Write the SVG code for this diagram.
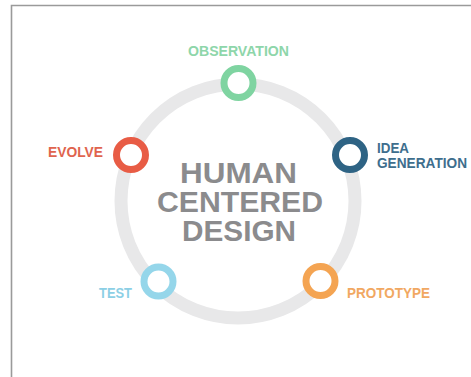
<svg xmlns="http://www.w3.org/2000/svg" width="471" height="377" viewBox="0 0 471 377">
  <style>
    .lbl { font-family: "Liberation Sans", Arial, sans-serif; font-weight: bold; font-size: 14px; }
    .title { font-family: "Liberation Sans", Arial, sans-serif; font-weight: bold; font-size: 29px; fill: #8b8b8d; text-anchor: middle; }
    .dot { fill: #ffffff; stroke-width: 7; }
  </style>
  <rect x="0" y="0" width="471" height="377" fill="#ffffff"/>
  <path d="M11.5 377 V5.5 H471" fill="none" stroke="#9a9a9a" stroke-width="1.6"/>

  <g id="connectors">
    <circle cx="238" cy="201" r="117" fill="none" stroke="#e8e8e9" stroke-width="13"/>
  </g>

  <g id="center">
    <text class="title" x="238.5" y="183" textLength="117" lengthAdjust="spacingAndGlyphs">HUMAN</text>
    <text class="title" x="240" y="212" textLength="166" lengthAdjust="spacingAndGlyphs">CENTERED</text>
    <text class="title" x="239" y="241" textLength="114" lengthAdjust="spacingAndGlyphs">DESIGN</text>
  </g>

  <g id="observation">
    <circle class="dot" cx="238.5" cy="83" r="14.5" stroke="#7fd4a1"/>
    <text class="lbl" x="188" y="56" fill="#8ed6aa" textLength="101" lengthAdjust="spacingAndGlyphs">OBSERVATION</text>
  </g>

  <g id="idea-generation">
    <circle class="dot" cx="350" cy="155" r="14.5" stroke="#2e6384"/>
    <text class="lbl" x="377" y="153" fill="#3e6e8d" textLength="32" lengthAdjust="spacingAndGlyphs">IDEA</text>
    <text class="lbl" x="377" y="167.5" fill="#3e6e8d" textLength="90" lengthAdjust="spacingAndGlyphs">GENERATION</text>
  </g>

  <g id="prototype">
    <circle class="dot" cx="320.5" cy="281" r="14.5" stroke="#f4a452"/>
    <text class="lbl" x="347" y="297.5" fill="#f1a862" textLength="83" lengthAdjust="spacingAndGlyphs">PROTOTYPE</text>
  </g>

  <g id="test">
    <circle class="dot" cx="158.5" cy="281.5" r="14.5" stroke="#95d6ea"/>
    <text class="lbl" x="99" y="297.5" fill="#8ccfe5" textLength="33" lengthAdjust="spacingAndGlyphs">TEST</text>
  </g>

  <g id="evolve">
    <circle class="dot" cx="131" cy="155" r="14.5" stroke="#e85c45"/>
    <text class="lbl" x="48" y="157" fill="#e0644e" textLength="55" lengthAdjust="spacingAndGlyphs">EVOLVE</text>
  </g>
</svg>
